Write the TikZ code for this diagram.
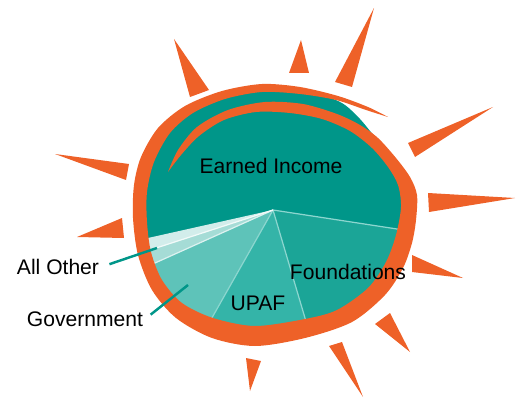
\documentclass[tikz,border=0pt]{standalone}
\usepackage{fontspec}
\setmainfont{Liberation Sans}
\usetikzlibrary{calc}
\definecolor{sunorange}{RGB}{238,97,40}
\definecolor{earned}{RGB}{0,150,137}
\definecolor{found}{RGB}{27,165,151}
\definecolor{upaf}{RGB}{52,180,168}
\definecolor{govt}{RGB}{94,195,185}
\definecolor{otherlo}{RGB}{165,220,214}
\definecolor{otherhi}{RGB}{210,237,235}
\definecolor{divide}{RGB}{140,214,207}
\tikzstyle{ray} = [fill=sunorange]
\tikzstyle{slicetext} = [font=\fontsize{12}{14}\selectfont, text=black, inner sep=1pt]
\tikzstyle{leader} = [draw=earned, line width=1.4pt]
\tikzstyle{divider} = [draw=divide, line width=0.7pt]

\begin{document}
\begin{tikzpicture}[x=0.02cm, y=-0.02cm]
\useasboundingbox (0,0) rectangle (524,402);
\coordinate (c) at (273,210);
\coordinate (e1) at (397,229);
\coordinate (e2) at (305,318);
\coordinate (e3) at (213,316);
\coordinate (e4) at (155,263);
\coordinate (e5) at (150,250);
\coordinate (e6) at (148,238);

\begin{scope}
\clip plot[smooth cycle] coordinates {(375,137) (395,160) (408,177) (412,196) (410,225) (402,255) (385,285) (355,312) (310,330) (255,338) (210,330) (178,312) (155,287) (142,255) (139,215) (140,185) (146,160) (162,130) (188,110) (222,96) (262,89) (300,92) (330,98) (345,105) (360,119)};
\fill[earned] (0,0) rectangle (524,402);
\fill[found] (c) -- ($(c)!2!(e1)$) -- ($(c)!2!(e2)$) -- cycle;
\fill[upaf] (c) -- ($(c)!2!(e2)$) -- ($(c)!2!(e3)$) -- cycle;
\fill[govt] (c) -- ($(c)!2!(e3)$) -- ($(c)!2!(e4)$) -- cycle;
\fill[otherlo] (c) -- ($(c)!2!(e4)$) -- ($(c)!2!(e5)$) -- cycle;
\fill[otherhi] (c) -- ($(c)!2!(e5)$) -- ($(c)!2!(e6)$) -- cycle;
\draw[divider] (c) -- ($(c)!1.1!(e1)$);
\draw[divider] (c) -- ($(c)!1.1!(e2)$);
\draw[divider] (c) -- ($(c)!1.1!(e3)$);
\draw[divider, draw=white!60!otherlo] (c) -- ($(c)!1.1!(e4)$);
\draw[divider, draw=white!70!otherhi] (c) -- ($(c)!1.1!(e5)$);
\end{scope}

\fill[sunorange] plot[smooth] coordinates {(168,172) (178,150) (197,127) (228,110) (265,102) (303,104) (337,114) (360,125) (378,138) (396,158) (410,177) (417,195) (416,220) (412,243) (403,268) (385,295) (352,322) (305,338) (255,346) (212,338) (176,318) (152,290) (138,255) (133,218) (134,185) (141,157) (158,128) (185,106) (222,91) (262,84) (300,87) (338,96) (368,107) (388,117)}
  -- plot[smooth] coordinates {(388,117) (366,110) (336,100) (300,94) (262,92) (225,99) (193,113) (170,133) (154,162) (147,192) (147,222) (151,252) (162,280) (182,303) (213,318) (255,326) (305,319) (337,310) (368,288) (386,262) (396,235) (401,207) (398,185) (388,167) (372,148) (350,131) (322,119) (290,113) (256,112) (224,120) (199,136) (181,155) (168,172)} -- cycle;

\foreach \tip/\ba/\bb in {{174,39}/{190,97}/{209,90}, {301,40}/{289,73}/{309,73}, {374,8}/{335,82}/{352,87},
    {493,107}/{408,143}/{415,157}, {515,198}/{428,193}/{429,212}, {463,278}/{412,255}/{412,272},
    {410,352}/{375,324}/{390,313}, {363,397}/{329,346}/{342,342}, {250,391}/{246,358}/{261,361},
    {77,237}/{122,218}/{124,238}, {55,154}/{129,164}/{126,180}}
  \fill[ray] (\tip) -- (\ba) -- (\bb) -- cycle;

\node[slicetext] (earnedtxt) at (271,166) {Earned Income};
\node[slicetext] (foundtxt) at (348,272) {Foundations};
\node[slicetext] (upaftxt) at (258,303) {UPAF};
\node[slicetext] (othertxt) at (58,267) {All Other};
\node[slicetext] (govtxt) at (85,319) {Government};
\coordinate (otherpt) at (157,248);
\coordinate (govpt) at (188,285);
\draw[leader, shorten <=5pt] (othertxt.east) -- (otherpt);
\draw[leader, shorten <=4pt] (govtxt.east) -- (govpt);
\end{tikzpicture}
\end{document}
